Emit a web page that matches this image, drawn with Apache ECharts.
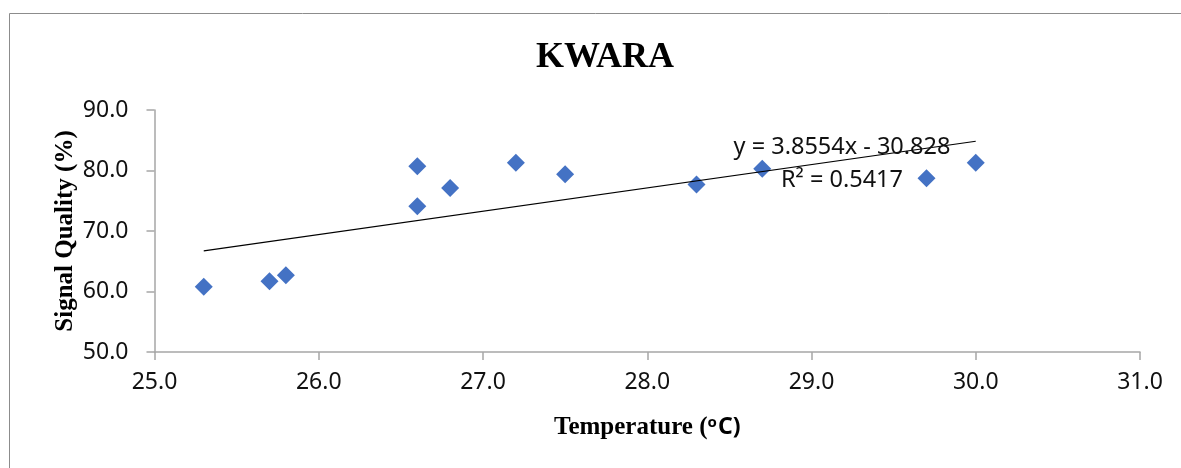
<!DOCTYPE html>
<html>
<head>
<meta charset="utf-8">
<title>KWARA</title>
<script src="https://cdn.jsdelivr.net/npm/echarts@6/dist/echarts.min.js"></script>
<style>
  html, body { margin: 0; padding: 0; background: #ffffff; }
  #chart { width: 1181px; height: 468px; }
</style>
</head>
<body>
<div id="chart"></div>
<script>
// Temperature (°C) readings and matching signal quality (%)
const temperature = [25.3, 25.7, 25.8, 26.6, 26.6, 26.8, 27.2, 27.5, 28.3, 28.7, 29.7, 30.0];
const signalQuality = [60.8, 61.7, 62.7, 80.7, 74.1, 77.1, 81.3, 79.4, 77.7, 80.3, 78.7, 81.3];

// Linear trendline as stated on the chart
const slope = 3.8554;
const intercept = -30.828;
const rSquared = 0.5417;

const xTicks = { min: 25, max: 31, interval: 1 };
const yTicks = { min: 50, max: 90, interval: 10 };

const points = temperature.map((t, i) => [t, signalQuality[i]]);
const xMin = Math.min(...temperature);
const xMax = Math.max(...temperature);
const trend = [xMin, xMax].map(x => [x, slope * x + intercept]);

const sansFont = '"Noto Sans", "Liberation Sans", sans-serif';
const serifFont = '"Liberation Serif", "DejaVu Serif", serif';
const axisGray = '#a6a6a6';

const chart = echarts.init(document.getElementById('chart'), null, { renderer: 'canvas' });

chart.setOption({
  backgroundColor: '#ffffff',
  animation: false,
  title: {
    text: 'KWARA',
    left: 600,
    textAlign: 'center',
    top: 35,
    textStyle: { fontFamily: serifFont, fontWeight: 'bold', fontSize: 36, color: '#000' }
  },
  grid: { left: 154.5, right: 41, top: 110, bottom: 116, containLabel: false },
  xAxis: {
    type: 'value',
    min: xTicks.min,
    max: xTicks.max,
    interval: xTicks.interval,
    name: '{t|Temperature (}{s|o}{c|C)}',
    nameLocation: 'middle',
    nameGap: 63,
    nameMoveOverlap: false,
    nameTextStyle: {
      rich: {
        t: { fontFamily: serifFont, fontWeight: 'bold', fontSize: 25, color: '#000' },
        s: { fontFamily: sansFont, fontWeight: 'bold', fontSize: 15, color: '#000', verticalAlign: 'top', padding: [0, 1, 9, 0] },
        c: { fontFamily: sansFont, fontWeight: 'bold', fontSize: 23, color: '#000' }
      }
    },
    axisLine: { show: true, lineStyle: { color: axisGray, width: 1.5 } },
    axisTick: { show: true, length: 8, lineStyle: { color: axisGray, width: 1.5 } },
    axisLabel: {
      margin: 19,
      fontFamily: sansFont,
      fontSize: 23,
      color: '#111',
      formatter: v => v.toFixed(1)
    },
    splitLine: { show: false }
  },
  yAxis: {
    type: 'value',
    min: yTicks.min,
    max: yTicks.max,
    interval: yTicks.interval,
    name: 'Signal Quality (%)',
    nameLocation: 'middle',
    nameGap: 76,
    nameMoveOverlap: false,
    nameTextStyle: { fontFamily: serifFont, fontWeight: 'bold', fontSize: 25, color: '#000' },
    axisLine: { show: true, lineStyle: { color: axisGray, width: 1.5 } },
    axisTick: { show: true, length: 8, lineStyle: { color: axisGray, width: 1.5 } },
    axisLabel: {
      margin: 26,
      fontFamily: sansFont,
      fontSize: 23,
      color: '#111',
      formatter: v => v.toFixed(1)
    },
    splitLine: { show: false }
  },
  graphic: [
    {
      type: 'rect',
      shape: { x: 9.5, y: 13.5, width: 1300, height: 600 },
      style: { fill: 'none', stroke: '#8c8c8c', lineWidth: 1 },
      silent: true,
      z: -10
    },
    {
      type: 'text',
      x: 842, y: 147,
      style: {
        text: 'y = ' + slope + 'x - ' + Math.abs(intercept),
        fontFamily: sansFont, fontSize: 23.5, fill: '#111',
        align: 'center', verticalAlign: 'middle'
      },
      z: 10
    },
    {
      type: 'text',
      x: 842, y: 180,
      style: {
        text: 'R² = ' + rSquared,
        fontFamily: sansFont, fontSize: 23.5, fill: '#111',
        align: 'center', verticalAlign: 'middle'
      },
      z: 10
    }
  ],
  series: [
    {
      name: 'Signal Quality',
      type: 'scatter',
      data: points,
      symbol: 'diamond',
      symbolSize: 18,
      itemStyle: { color: '#4472c4', opacity: 1 },
      z: 3
    },
    {
      name: 'Linear trend',
      type: 'line',
      data: trend,
      showSymbol: false,
      symbol: 'none',
      lineStyle: { color: '#000', width: 1.2 },
      z: 4
    }
  ]
});
</script>
</body>
</html>
